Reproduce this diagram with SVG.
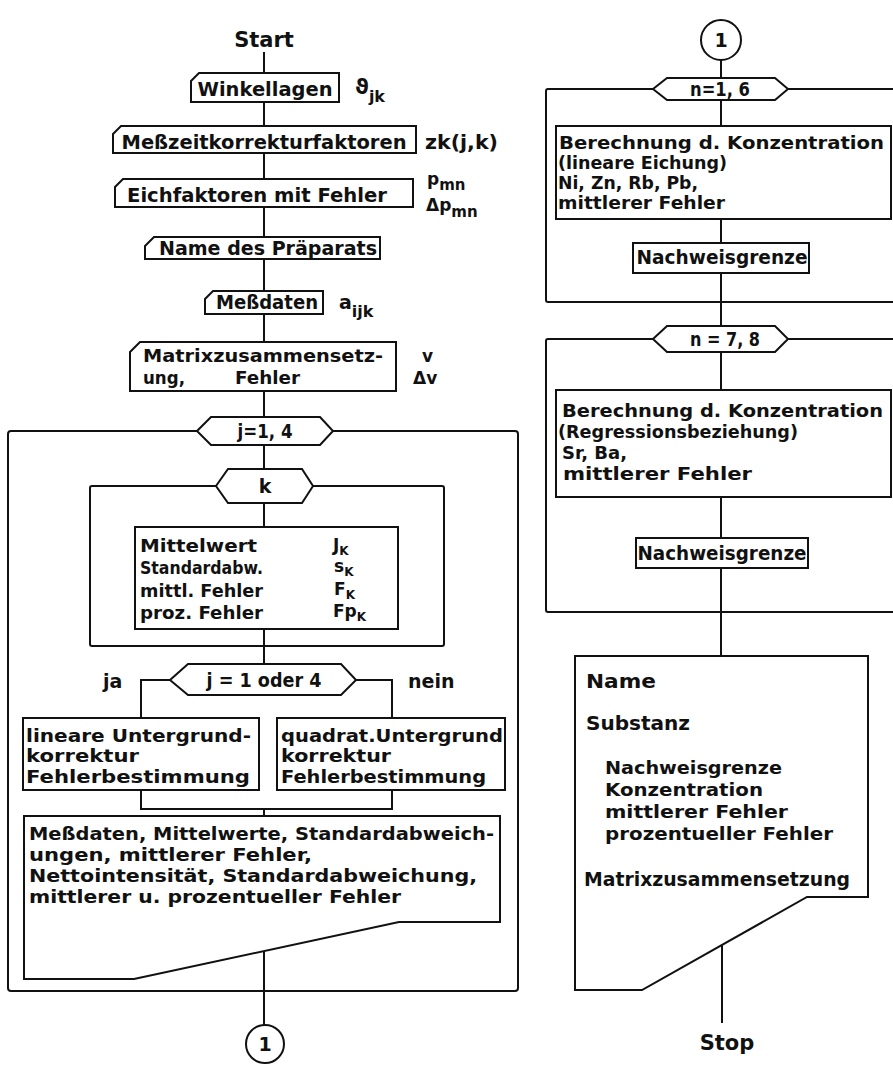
<svg xmlns="http://www.w3.org/2000/svg" width="893" height="1067" viewBox="0 0 893 1067">
<style>
.s{fill:none;stroke:#111;stroke-width:2}
.b{fill:#fff;stroke:#111;stroke-width:2;stroke-linejoin:miter}
.f{fill:none;stroke:#111;stroke-width:2}
text{font-family:"DejaVu Sans","Liberation Sans",sans-serif;font-weight:bold;font-size:19px;fill:#111}
.c{text-anchor:middle}
.m{font-size:17px}
.sub{font-size:16px}
.k{font-size:12px}
</style>
<rect width="893" height="1067" fill="#fff"/>
<g id="loops">
<rect id="loop-j" class="f" x="8" y="431" width="510" height="560" rx="3"/>
<rect id="loop-k" class="f" x="90" y="486" width="354" height="160" rx="2"/>
<rect id="loop-n16" class="f" x="546" y="89" width="360" height="213" rx="2"/>
<rect id="loop-n78" class="f" x="546" y="339" width="360" height="273" rx="2"/>
</g>
<g id="connectors">
<path class="s" d="M264,52V73M264,102V126M264,153V179M264,207V237M264,259V291M264,314V342M264,391V417M264,445V469M264,503V527M264,629V664"/>
<path class="s" d="M170,680H141V718M356,680H392V718M141,790V809H392V790M264,809V816"/>
<path class="s" d="M264,951V1025"/>
<path class="s" d="M721,60V78M721,100V126M721,219V243M721,273V326M721,352V390M721,497V538M721,568V656M722,945V1023"/>
</g>
<g id="start"><text class="c" x="264" y="47" style="font-size:21px">Start</text></g>
<g id="winkellagen">
<path class="b" d="M191,81L199,73H339V102H191Z"/>
<text class="c" x="265" y="96" textLength="135" lengthAdjust="spacingAndGlyphs">Winkellagen</text>
<text x="355" y="94" style="font-size:21px">ϑ<tspan class="sub" dy="8">jk</tspan></text>
</g>
<g id="messzeit">
<path class="b" d="M113,134L121,126H416V153H113Z"/>
<text class="c" x="264" y="149" textLength="285" lengthAdjust="spacingAndGlyphs">Meßzeitkorrekturfaktoren</text>
<text x="425" y="149" textLength="73" lengthAdjust="spacingAndGlyphs">zk(j,k)</text>
</g>
<g id="eichfaktoren">
<path class="b" d="M115,187L123,179H413V207H115Z"/>
<text class="c" x="257" y="202" textLength="260" lengthAdjust="spacingAndGlyphs">Eichfaktoren mit Fehler</text>
<text x="427" y="185" class="m">p<tspan class="sub" dy="5" style="font-size:15px">mn</tspan></text>
<text x="426" y="211" class="m">Δp<tspan class="sub" dy="6" style="font-size:15px">mn</tspan></text>
</g>
<g id="praeparat">
<path class="b" d="M145,246L154,237H380V259H145Z"/>
<text class="c" x="268" y="255" textLength="218" lengthAdjust="spacingAndGlyphs">Name des Präparats</text>
</g>
<g id="messdaten">
<path class="b" d="M205,299L213,291H323V314H205Z"/>
<text class="c" x="267" y="309" textLength="102" lengthAdjust="spacingAndGlyphs">Meßdaten</text>
<text x="339" y="309">a<tspan class="sub" dy="8">ijk</tspan></text>
</g>
<g id="matrix">
<path class="b" d="M130,352L140,342H396V391H130Z"/>
<text x="143" y="362" class="m" textLength="240" lengthAdjust="spacingAndGlyphs">Matrixzusammensetz-</text>
<text x="143" y="384" class="m" textLength="42" lengthAdjust="spacingAndGlyphs">ung,</text>
<text x="235" y="384" class="m" textLength="65" lengthAdjust="spacingAndGlyphs">Fehler</text>
<text x="422" y="362" class="m">v</text>
<text x="413" y="384" class="m">Δv</text>
</g>
<g id="hex-j">
<path class="b" d="M197,431L211,417H320L333,431L320,445H211Z"/>
<text class="c" x="265" y="438" textLength="55" lengthAdjust="spacingAndGlyphs">j=1, 4</text>
</g>
<g id="hex-k">
<path class="b" d="M216,486L228,469H302L313,486L302,503H228Z"/>
<text class="c" x="265" y="493">k</text>
</g>
<g id="statistik">
<rect class="b" x="135" y="527" width="263" height="102"/>
<text x="140" y="552" class="m" textLength="117" lengthAdjust="spacingAndGlyphs">Mittelwert</text>
<text x="140" y="574" class="m" textLength="123" lengthAdjust="spacingAndGlyphs">Standardabw.</text>
<text x="140" y="597" class="m" textLength="123" lengthAdjust="spacingAndGlyphs">mittl. Fehler</text>
<text x="140" y="619" class="m" textLength="123" lengthAdjust="spacingAndGlyphs">proz. Fehler</text>
<text x="333" y="551" class="m">J<tspan class="k" dy="4">K</tspan></text>
<text x="334" y="572" class="m">s<tspan class="k" dy="4">K</tspan></text>
<text x="334" y="595" class="m">F<tspan class="k" dy="4">K</tspan></text>
<text x="333" y="617" class="m">Fp<tspan class="k" dy="4">K</tspan></text>
</g>
<g id="hex-j14">
<path class="b" d="M170,680L188,664H341L356,680L341,695H188Z"/>
<text class="c" x="264" y="687" textLength="115" lengthAdjust="spacingAndGlyphs">j = 1 oder 4</text>
<text x="103" y="688">ja</text>
<text x="408" y="688">nein</text>
</g>
<g id="linear">
<rect class="b" x="23" y="718" width="236" height="72"/>
<text x="26" y="742" class="m" textLength="225" lengthAdjust="spacingAndGlyphs">lineare Untergrund-</text>
<text x="26" y="762" class="m" textLength="113" lengthAdjust="spacingAndGlyphs">korrektur</text>
<text x="26" y="783" class="m" textLength="224" lengthAdjust="spacingAndGlyphs">Fehlerbestimmung</text>
</g>
<g id="quadrat">
<rect class="b" x="277" y="718" width="228" height="72"/>
<text x="281" y="742" class="m" textLength="222" lengthAdjust="spacingAndGlyphs">quadrat.Untergrund</text>
<text x="281" y="762" class="m" textLength="110" lengthAdjust="spacingAndGlyphs">korrektur</text>
<text x="281" y="783" class="m" textLength="205" lengthAdjust="spacingAndGlyphs">Fehlerbestimmung</text>
</g>
<g id="ausgabe1">
<path class="b" d="M24,816H500V922H399L134,979H24Z"/>
<text x="29" y="840" class="m" textLength="465" lengthAdjust="spacingAndGlyphs">Meßdaten, Mittelwerte, Standardabweich-</text>
<text x="29" y="861" class="m" textLength="283" lengthAdjust="spacingAndGlyphs">ungen, mittlerer  Fehler,</text>
<text x="29" y="882" class="m" textLength="448" lengthAdjust="spacingAndGlyphs">Nettointensität, Standardabweichung,</text>
<text x="29" y="903" class="m" textLength="372" lengthAdjust="spacingAndGlyphs">mittlerer u. prozentueller Fehler</text>
</g>
<g id="conn-out">
<circle class="b" cx="265" cy="1044" r="19"/>
<text class="c" x="265" y="1051">1</text>
</g>
<g id="conn-in">
<circle class="b" cx="721" cy="40" r="20"/>
<text class="c" x="721" y="47">1</text>
</g>
<g id="hex-n16">
<path class="b" d="M653,89L667,78H775L788,89L775,100H667Z"/>
<text class="c" x="720" y="96" textLength="60" lengthAdjust="spacingAndGlyphs">n=1, 6</text>
</g>
<g id="berechnung1">
<rect class="b" x="556" y="126" width="335" height="93"/>
<text x="559" y="149" class="m" textLength="325" lengthAdjust="spacingAndGlyphs">Berechnung d. Konzentration</text>
<text x="558" y="169" class="m" textLength="169" lengthAdjust="spacingAndGlyphs">(lineare  Eichung)</text>
<text x="558" y="189" class="m" textLength="140" lengthAdjust="spacingAndGlyphs">Ni, Zn, Rb, Pb,</text>
<text x="558" y="209" class="m" textLength="167" lengthAdjust="spacingAndGlyphs">mittlerer  Fehler</text>
</g>
<g id="nachweis1">
<rect class="b" x="633" y="243" width="176" height="30"/>
<text class="c" x="722" y="264" textLength="171" lengthAdjust="spacingAndGlyphs">Nachweisgrenze</text>
</g>
<g id="hex-n78">
<path class="b" d="M653,339L667,326H775L788,339L775,352H667Z"/>
<text class="c" x="725" y="346" textLength="70" lengthAdjust="spacingAndGlyphs">n = 7, 8</text>
</g>
<g id="berechnung2">
<rect class="b" x="556" y="390" width="335" height="107"/>
<text x="562" y="417" class="m" textLength="321" lengthAdjust="spacingAndGlyphs">Berechnung d. Konzentration</text>
<text x="558" y="438" class="m" textLength="240" lengthAdjust="spacingAndGlyphs">(Regressionsbeziehung)</text>
<text x="562" y="459" class="m" textLength="65" lengthAdjust="spacingAndGlyphs">Sr, Ba,</text>
<text x="563" y="480" class="m" textLength="189" lengthAdjust="spacingAndGlyphs">mittlerer  Fehler</text>
</g>
<g id="nachweis2">
<rect class="b" x="636" y="538" width="172" height="30"/>
<text class="c" x="722" y="560" textLength="169" lengthAdjust="spacingAndGlyphs">Nachweisgrenze</text>
</g>
<g id="ausgabe2">
<path class="b" d="M575,656H868V897H807L642,990H575Z"/>
<text x="586" y="688" textLength="70" lengthAdjust="spacingAndGlyphs">Name</text>
<text x="586" y="730" textLength="104" lengthAdjust="spacingAndGlyphs">Substanz</text>
<text x="605" y="774" class="m" textLength="177" lengthAdjust="spacingAndGlyphs">Nachweisgrenze</text>
<text x="605" y="796" class="m" textLength="158" lengthAdjust="spacingAndGlyphs">Konzentration</text>
<text x="605" y="818" class="m" textLength="183" lengthAdjust="spacingAndGlyphs">mittlerer  Fehler</text>
<text x="605" y="840" class="m" textLength="228" lengthAdjust="spacingAndGlyphs">prozentueller  Fehler</text>
<text x="584" y="886" textLength="266" lengthAdjust="spacingAndGlyphs">Matrixzusammensetzung</text>
</g>
<g id="stop"><text class="c" x="727" y="1050" style="font-size:21px">Stop</text></g>
</svg>
